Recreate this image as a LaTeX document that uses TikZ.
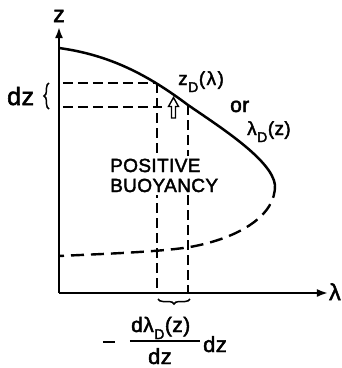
\documentclass[tikz,border=0pt]{standalone}
\usepackage{fontspec}
\setmainfont{Liberation Sans}[FakeBold=2.2,LetterSpace=2]
\usetikzlibrary{arrows.meta,decorations.pathreplacing}
\newcommand\mysubD{\kern0.5pt\raisebox{-7pt}{\fontsize{14}{14}\selectfont D}\kern0.5pt}
\begin{document}
\begin{tikzpicture}[x=1pt,y=-1pt,
  axis/.style={line width=2.3pt,-{Latex[length=11pt,width=8pt]}},
  curve/.style={line width=2.5pt},
  dashline/.style={line width=2pt,dash pattern=on 10pt off 5pt},
  lab/.style={inner sep=0pt,font=\fontsize{19}{19}\selectfont},
  biglab/.style={inner sep=0pt,font=\fontsize{23}{23}\selectfont},
  brc/.style={line width=1.5pt,decorate,decoration={brace,amplitude=5pt}}]
\useasboundingbox (0,0) rectangle (342,368);
% axes
\coordinate (O) at (59,293);
\coordinate (ztip) at (59,27);
\coordinate (ltip) at (328,293);
\draw[axis] (O) -- (ztip);
\draw[axis] (O) -- (ltip);
\node[biglab,anchor=base] (zlab) at (59,22) {z};
\node[biglab,anchor=base west] (llab) at (329,300) {λ};
% curve
\coordinate (c0) at (59,48);
\coordinate (c1) at (188,105);
\coordinate (c2) at (275,185);
\coordinate (c3) at (190,247);
\coordinate (c4) at (59,256);
\draw[curve] (c0) .. controls (110,55) and (148,75) .. (c1)
  .. controls (220,127) and (272,160) .. (c2);
\draw[line width=2.4pt,dash pattern=on 13pt off 7pt] (c2) .. controls (276,215) and (240,238) .. (c3)
  .. controls (160,252) and (100,254) .. (c4);
% dashed guides
\coordinate (h1a) at (63,83);
\coordinate (h1b) at (157,83);
\coordinate (h2a) at (63,107);
\coordinate (h2b) at (162,107);
\coordinate (v1b) at (157,294);
\coordinate (v2b) at (188,294);
\draw[dashline] (h1a) -- (h1b);
\draw[dashline] (h2a) -- (h2b);
\draw[dashline] (h1b) -- (v1b);
\draw[dashline] (c1) -- (v2b);
% hollow arrow
\draw[line width=1.4pt,line join=miter] (171.5,118) -- (171.5,106.5) -- (168.5,106.5) -- (173.5,97.5)
  -- (178.5,106.5) -- (175.5,106.5) -- (175.5,118) -- cycle;
% dz brace
\node[biglab,anchor=base west,font=\fontsize{25}{25}\selectfont] (dz) at (7,105) {dz};
\draw[brc] (49,109) -- (49,83);
% labels
\node[lab,anchor=base west] (zd) at (178,85) {z\mysubD(\kern1.5pt λ\kern1.5pt)};
\node[lab,anchor=base west,font=\fontsize{21}{21}\selectfont] (or) at (230,112) {or};
\node[lab,anchor=base west] (ld) at (247,135) {λ\mysubD(z)};
\node[lab,anchor=base west,align=left,fill=white,inner xsep=0pt,inner ysep=3pt,
  font=\fontsize{19}{20}\selectfont] (pb) at (110,192)
  {POSITIVE\\BUOYANCY};
% bottom brace
\draw[brc] (190,299) -- (158,299);
% formula
\node[lab,anchor=base west,font=\fontsize{21}{21}\selectfont] (num) at (131,332) {dλ\mysubD(z)};
\coordinate (bar1) at (130,341);
\coordinate (bar2) at (200,341);
\draw[line width=1.8pt] (bar1) -- (bar2);
\node[lab,anchor=base,font=\fontsize{22}{22}\selectfont] (den) at (160,364) {dz};
\node[lab,anchor=base west,font=\fontsize{22}{22}\selectfont] (dzr) at (203,352) {dz};
\coordinate (m1) at (103,342);
\coordinate (m2) at (115,342);
\draw[line width=2pt] (m1) -- (m2);
\end{tikzpicture}
\end{document}
